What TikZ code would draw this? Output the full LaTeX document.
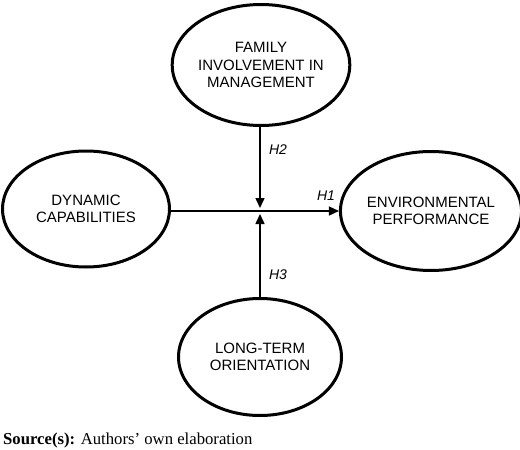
\documentclass[tikz,border=0pt]{standalone}
\usepackage{fontspec}
\setmainfont{Liberation Serif}
\setsansfont{Liberation Sans}
\usetikzlibrary{shapes.geometric,arrows.meta}
\begin{document}
\begin{tikzpicture}[x=1pt,y=-1pt,
  construct/.style={ellipse,draw,line width=3pt,inner sep=0pt,align=center,
    font=\sffamily\fontsize{15}{17.5}\selectfont},
  link/.style={line width=1.5pt,-{Triangle[length=10pt,width=9pt]}},
  hlabel/.style={font=\sffamily\itshape\fontsize{14}{16}\selectfont}]
\useasboundingbox (0,0) rectangle (520,450);
\node[construct,minimum width=162pt,minimum height=121pt] (fim) at (261,65) {FAMILY\\INVOLVEMENT IN\\MANAGEMENT};
\node[construct,minimum width=167pt,minimum height=116pt] (dc) at (86,209) {DYNAMIC\\CAPABILITIES};
\node[construct,minimum width=163pt,minimum height=119pt] (ep) at (431,211) {ENVIRONMENTAL\\PERFORMANCE};
\node[construct,minimum width=163pt,minimum height=117pt] (lto) at (260,357) {LONG-TERM\\ORIENTATION};
\coordinate (j) at (260,211);
\draw[link] (dc.east|-j) -- (ep.west|-j);
\draw[link,shorten >=3pt] (fim.south-|j) -- (j);
\draw[link,shorten >=3pt] (lto.north-|j) -- (j);
\node[hlabel] (h2) at (278,150) {H2};
\node[hlabel] (h1) at (326,196) {H1};
\node[hlabel] (h3) at (278,275) {H3};
\node[anchor=base west,inner sep=0pt,font=\fontsize{16.7}{19}\selectfont] (src) at (3,444) {\textbf{Source(s):} Authors’ own elaboration};
\end{tikzpicture}
\end{document}
